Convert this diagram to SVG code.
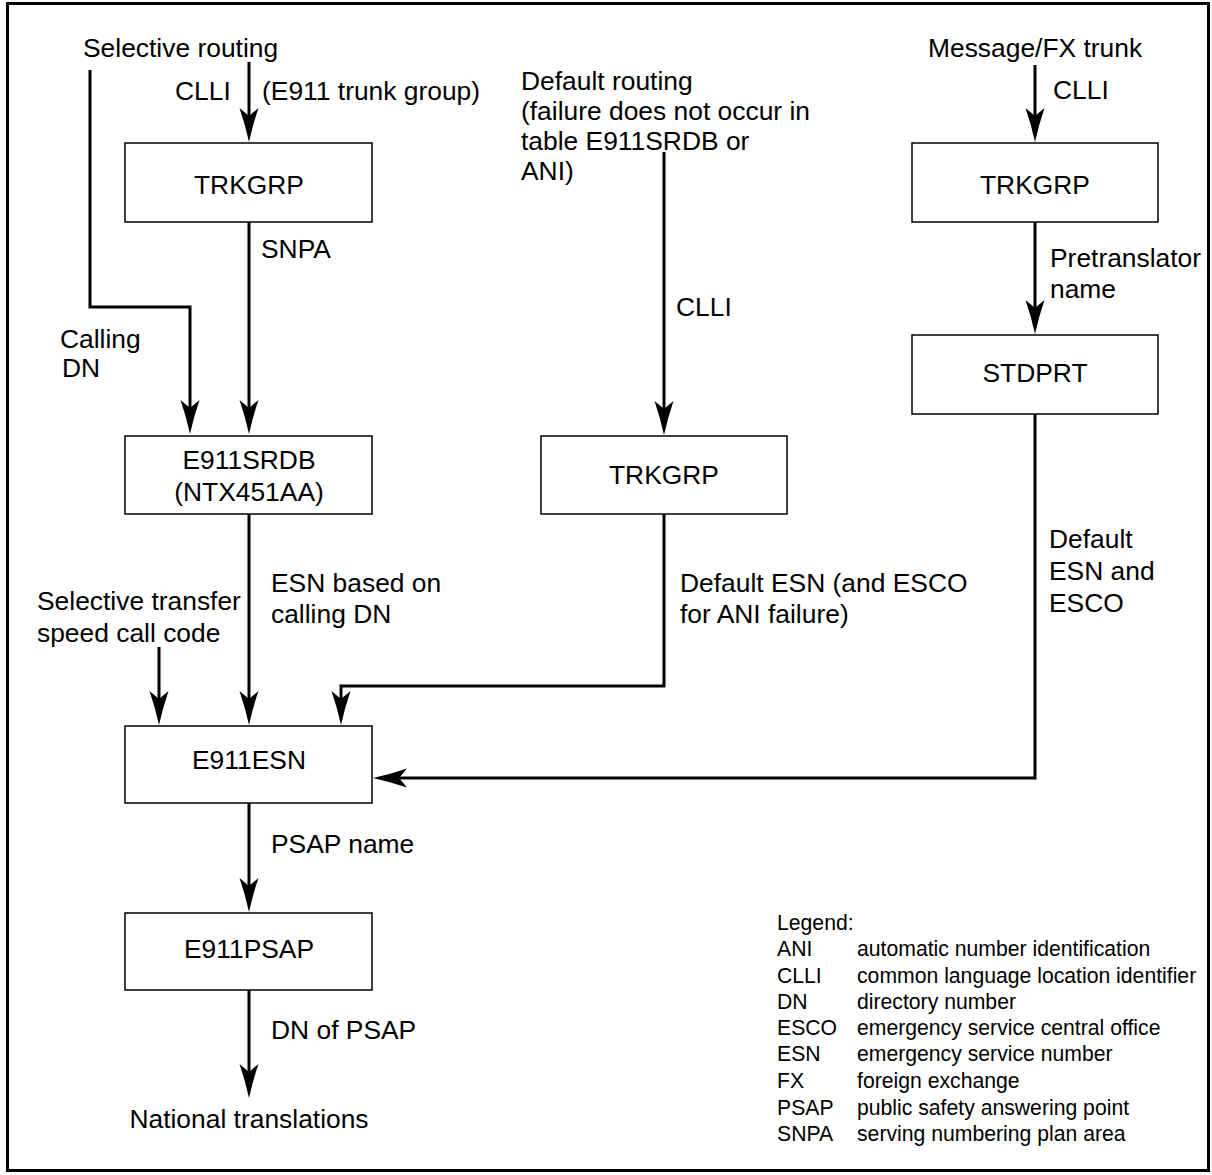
<svg xmlns="http://www.w3.org/2000/svg" width="1212" height="1175" viewBox="0 0 1212 1175">
<style>
text { font-family: "Liberation Sans", Arial, sans-serif; font-size: 26.4px; fill: #000; }
.c { text-anchor: middle; }
.lg { font-size: 21.2px; }
.box { fill: #fff; stroke: #000; stroke-width: 1.5; }
.conn { fill: none; stroke: #000; stroke-width: 3; marker-end: url(#arr); }
</style>
<defs>
<marker id="arr" markerUnits="userSpaceOnUse" viewBox="-36 -10 37 20" markerWidth="37" markerHeight="20" refX="-8" refY="0" orient="auto" overflow="visible">
<path d="M0,0 Q-18,-4 -34,-9.5 L-26,0 L-34,9.5 Q-18,4 0,0 Z" fill="#000"/>
</marker>
</defs>
<rect x="7.5" y="3.5" width="1201" height="1167" fill="none" stroke="#000" stroke-width="3"/>

<g id="connectors">
<path class="conn" d="M90,70 V307 H190 V426"/>
<path class="conn" d="M249,62 V134"/>
<path class="conn" d="M249,222 V426"/>
<path class="conn" d="M249,514 V717"/>
<path class="conn" d="M159,647 V717"/>
<path class="conn" d="M664,514 V686 H341 V717"/>
<path class="conn" d="M249,803 V904"/>
<path class="conn" d="M249,990 V1090"/>
<path class="conn" d="M664,152 V427"/>
<path class="conn" d="M1035,65 V134"/>
<path class="conn" d="M1035,222 V326"/>
<path class="conn" d="M1035,414 V778 H381"/>
</g>

<g id="n-selective-routing"><text x="83" y="57">Selective routing</text></g>
<g id="l-clli1"><text x="175" y="100">CLLI</text><text x="262" y="100">(E911 trunk group)</text></g>
<g id="n-trkgrp1"><rect class="box" x="125" y="143" width="247" height="79"/><text class="c" x="249" y="194">TRKGRP</text></g>
<g id="l-snpa"><text x="261" y="258">SNPA</text></g>
<g id="l-calling-dn"><text x="60" y="348">Calling</text><text x="62" y="377">DN</text></g>
<g id="n-e911srdb"><rect class="box" x="125" y="436" width="247" height="78"/><text class="c" x="249" y="469">E911SRDB</text><text class="c" x="249" y="501">(NTX451AA)</text></g>
<g id="l-esn-calling"><text x="271" y="592">ESN based on</text><text x="271" y="623">calling DN</text></g>
<g id="l-sel-transfer"><text x="37" y="610">Selective transfer</text><text x="37" y="642">speed call code</text></g>
<g id="n-e911esn"><rect class="box" x="125" y="726" width="247" height="77"/><text class="c" x="249" y="769">E911ESN</text></g>
<g id="l-psap-name"><text x="271" y="853">PSAP name</text></g>
<g id="n-e911psap"><rect class="box" x="125" y="913" width="247" height="77"/><text class="c" x="249" y="958">E911PSAP</text></g>
<g id="l-dn-psap"><text x="271" y="1039">DN of PSAP</text></g>
<g id="n-national"><text class="c" x="249" y="1128">National translations</text></g>

<g id="n-default-routing"><text x="521" y="90">Default routing</text><text x="521" y="120">(failure does not occur in</text><text x="521" y="150">table E911SRDB or</text><text x="521" y="180">ANI)</text></g>
<g id="l-clli2"><text x="676" y="316">CLLI</text></g>
<g id="n-trkgrp2"><rect class="box" x="541" y="436" width="246" height="78"/><text class="c" x="664" y="484">TRKGRP</text></g>
<g id="l-default-esn"><text x="680" y="592">Default ESN (and ESCO</text><text x="680" y="623">for ANI failure)</text></g>

<g id="n-message-fx"><text x="928" y="57">Message/FX trunk</text></g>
<g id="l-clli3"><text x="1053" y="99">CLLI</text></g>
<g id="n-trkgrp3"><rect class="box" x="912" y="143" width="246" height="79"/><text class="c" x="1035" y="194">TRKGRP</text></g>
<g id="l-pretrans"><text x="1050" y="267">Pretranslator</text><text x="1050" y="298">name</text></g>
<g id="n-stdprt"><rect class="box" x="912" y="335" width="246" height="79"/><text class="c" x="1035" y="382">STDPRT</text></g>
<g id="l-default-esco"><text x="1049" y="548">Default</text><text x="1049" y="580">ESN and</text><text x="1049" y="612">ESCO</text></g>

<g id="legend">
<text class="lg" x="777" y="930">Legend:</text>
<text class="lg" x="777" y="956">ANI</text><text class="lg" x="857" y="956">automatic number identification</text>
<text class="lg" x="777" y="983">CLLI</text><text class="lg" x="857" y="983">common language location identifier</text>
<text class="lg" x="777" y="1009">DN</text><text class="lg" x="857" y="1009">directory number</text>
<text class="lg" x="777" y="1035">ESCO</text><text class="lg" x="857" y="1035">emergency service central office</text>
<text class="lg" x="777" y="1061">ESN</text><text class="lg" x="857" y="1061">emergency service number</text>
<text class="lg" x="777" y="1088">FX</text><text class="lg" x="857" y="1088">foreign exchange</text>
<text class="lg" x="777" y="1115">PSAP</text><text class="lg" x="857" y="1115">public safety answering point</text>
<text class="lg" x="777" y="1141">SNPA</text><text class="lg" x="857" y="1141">serving numbering plan area</text>
</g>
</svg>
